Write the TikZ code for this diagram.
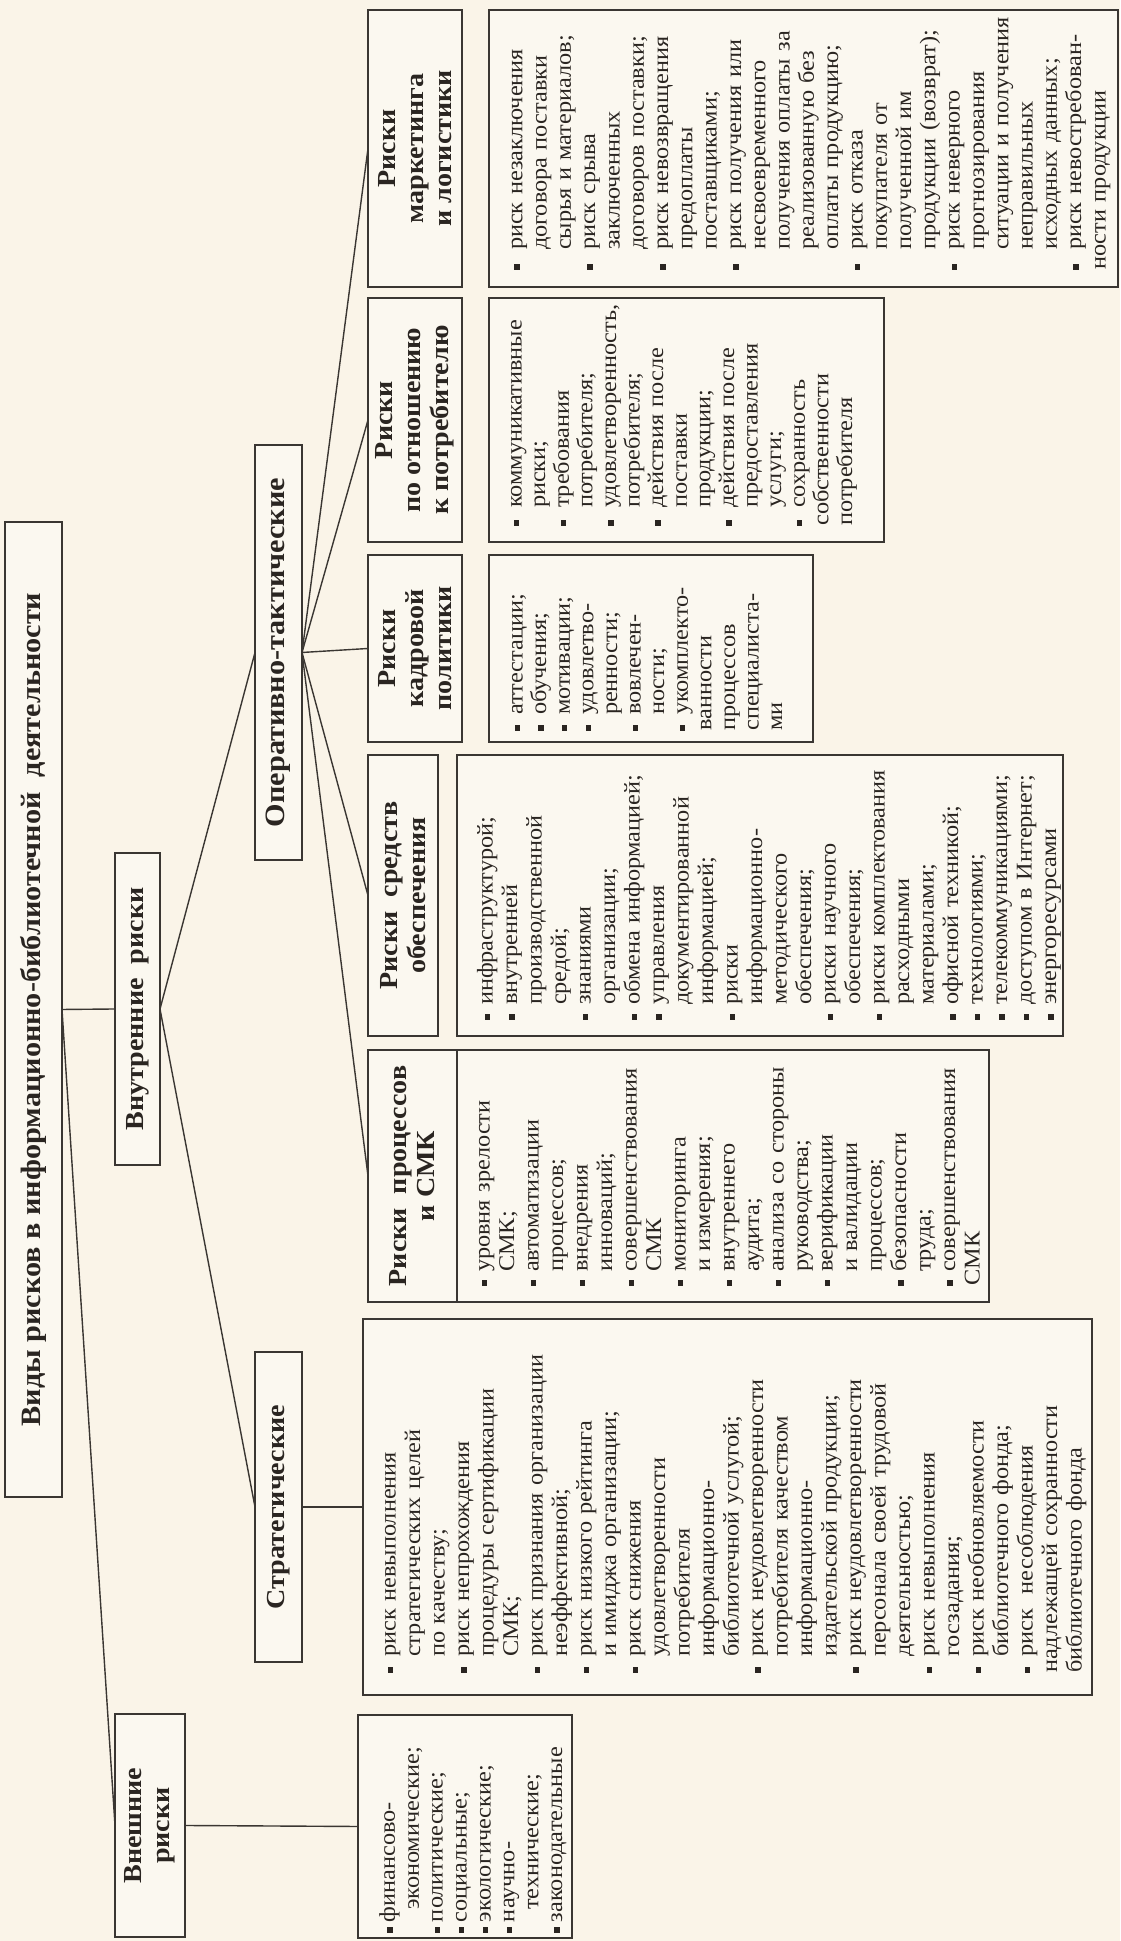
\documentclass[tikz,border=0pt]{standalone}
\usepackage{fontspec}
\setmainfont{Liberation Serif}[FakeStretch=1.08]
\definecolor{bg}{HTML}{FAF4E8}
\definecolor{boxf}{HTML}{FBF8F0}
\definecolor{boxc}{HTML}{3A3632}
\definecolor{txt}{HTML}{2A2521}
\newlength\bind
\newcommand\li{\par\noindent\hangindent=\bind\hangafter=1\makebox[\bind][l]{\strut\raisebox{2.4pt}{\rule{5.5pt}{5.5pt}}}}
\newcommand\nl{\newline}
\newcommand\hfnt{\bfseries\fontsize{26}{28}\selectfont}
\newcommand\lfnt{\fontsize{22.5}{24.5}\selectfont}
\newcommand\lfntb{\fontsize{22.5}{23.6}\selectfont}
\newcommand\lfntc{\fontsize{22.5}{24.3}\selectfont}
\newcommand\lfntd{\fontsize{22.5}{23.9}\selectfont}
\tikzset{
  hdr/.style={draw=boxc, line width=1.8pt, fill=boxf, inner sep=0pt, outer sep=0pt,
    anchor=north west, align=center, font=\hfnt, text=txt},
  lstbox/.style={draw=boxc, line width=1.8pt, fill=boxf, inner sep=0pt, outer sep=0pt,
    anchor=north west},
  ltx/.style={anchor=north west, inner sep=0pt, outer sep=0pt, font=\lfnt, text=txt},
  conn/.style={draw=boxc, line width=1.4pt},
}
\begin{document}
\begin{tikzpicture}[x=1pt,y=1pt]
\fill[bg] (0,0) rectangle (1120,1941);
\useasboundingbox (0,0) rectangle (1120,1941);
\begin{scope}[rotate=90, transform shape]
% title and first level
\node[hdr, minimum width=975pt, minimum height=57pt, font=\bfseries\fontsize{28}{30}\selectfont] (title) at (444,-5)
  {Виды рисков в информационно-библиотечной\ \ деятельности};
\node[hdr, minimum width=223pt, minimum height=70pt] (vnesh) at (4,-115) {Внешние\\риски};
\node[hdr, minimum width=312pt, minimum height=45pt] (vnutr) at (776,-115) {Внутренние\ \ риски};
\node[hdr, minimum width=415pt, minimum height=47pt, font=\bfseries\fontsize{28}{30}\selectfont] (oper) at (1081,-255) {Оперативно-тактические};
\node[hdr, minimum width=310pt, minimum height=47pt] (strat) at (279,-255) {Стратегические};
% category headers
\node[hdr, minimum width=252pt, minimum height=89pt] (smkh) at (639,-368) {Риски\ \ процессов\\и СМК};
\node[hdr, minimum width=281pt, minimum height=70pt] (sredh) at (905,-368) {Риски\ \ средств\\обеспечения};
\node[hdr, minimum width=187pt, minimum height=94pt] (kadrh) at (1199,-368) {Риски\\кадровой\\политики};
\node[hdr, minimum width=244pt, minimum height=94pt] (potrh) at (1399,-368) {Риски\\по отношению\\к потребителю};
\node[hdr, minimum width=277pt, minimum height=94pt] (markh) at (1654,-368) {Риски\\маркетинга\\и логистики};
% list boxes
\node[lstbox, minimum width=223pt, minimum height=214pt] (vneshl) at (3,-358) {};
\node[lstbox, minimum width=376pt, minimum height=729pt] (stratl) at (246,-363) {};
\node[lstbox, minimum width=252pt, minimum height=532pt] (smkl) at (639,-457) {};
\node[lstbox, minimum width=281pt, minimum height=606pt] (sredl) at (905,-457) {};
\node[lstbox, minimum width=187pt, minimum height=324pt] (kadrl) at (1199,-489) {};
\node[lstbox, minimum width=244pt, minimum height=395pt] (potrl) at (1399,-489) {};
\node[lstbox, minimum width=277pt, minimum height=629pt] (markl) at (1654,-489) {};
% list texts
\node[ltx, font=\lfntd, text width=210pt] (vneshtx) at (8.2,-371) {\setlength\bind{10.8pt}%
\li финансово-\nl\hspace*{12pt}экономические;
\li политические;
\li социальные;
\li экологические;
\li научно-\nl\hspace*{12pt}технические;
\li законодательные};
\node[ltx, text width=350pt] (strattx) at (268.2,-371) {\setlength\bind{16pt}%
\li риск невыполнения\nl стратегических целей\nl по качеству;
\li риск непрохождения\nl процедуры сертификации\nl СМК;
\li риск признания организации\nl неэффективной;
\li риск низкого рейтинга\nl и имиджа организации;
\li риск снижения\nl удовлетворенности\nl потребителя\nl информационно-\nl библиотечной услугой;
\li риск неудовлетворенности\nl потребителя качеством\nl информационно-\nl издательской продукции;
\li риск неудовлетворенности\nl персонала своей трудовой\nl деятельностью;
\li риск невыполнения\nl госзадания;
\li риск необновляемости\nl библиотечного фонда;
\li риск\ \ несоблюдения\nl надлежащей сохранности\nl библиотечного фонда};
\node[ltx, text width=234pt] (smktx) at (655.2,-465) {\setlength\bind{13.8pt}%
\li уровня зрелости\nl СМК;
\li автоматизации\nl процессов;
\li внедрения\nl инноваций;
\li совершенствования\nl СМК
\li мониторинга\nl и измерения;
\li внутреннего\nl аудита;
\li анализа со стороны\nl руководства;
\li верификации\nl и валидации\nl процессов;
\li безопасности\nl труда;
\li совершенствования\nl СМК};
\node[ltx, text width=262pt] (sredtx) at (921.2,-468) {\setlength\bind{14.8pt}%
\li инфраструктурой;
\li внутренней\nl производственной\nl средой;
\li знаниями\nl организации;
\li обмена информацией;
\li управления\nl документированной\nl информацией;
\li риски\nl информационно-\nl методического\nl обеспечения;
\li риски научного\nl обеспечения;
\li риски комплектования\nl расходными\nl материалами;
\li офисной техникой;
\li технологиями;
\li телекоммуникациями;
\li доступом в Интернет;
\li энергоресурсами};
\node[ltx, font=\lfntb, text width=172pt] (kadrtx) at (1210.2,-499) {\setlength\bind{15.8pt}%
\li аттестации;
\li обучения;
\li мотивации;
\li удовлетво-\nl ренности;
\li вовлечен-\nl ности;
\li укомплекто-\nl ванности\nl процессов\nl специалиста-\nl ми};
\node[ltx, font=\lfntb, text width=226pt] (potrtx) at (1415.2,-498) {\setlength\bind{17.8pt}%
\li коммуникативные\nl риски;
\li требования\nl потребителя;
\li удовлетворенность,\nl потребителя;
\li действия после\nl поставки\nl продукции;
\li действия после\nl предоставления\nl услуги;
\li сохранность\nl собственности\nl потребителя};
\node[ltx, font=\lfntc, text width=258pt] (marktx) at (1671.2,-498) {\setlength\bind{19.8pt}%
\li риск незаключения\nl договора поставки\nl сырья и материалов;
\li риск срыва\nl заключенных\nl договоров поставки;
\li риск невозвращения\nl предоплаты\nl поставщиками;
\li риск получения или\nl несвоевременного\nl получения оплаты за\nl реализованную без\nl оплаты продукцию;
\li риск отказа\nl покупателя от\nl полученной им\nl продукции (возврат);
\li риск неверного\nl прогнозирования\nl ситуации и получения\nl неправильных\nl исходных данных;
\li риск невостребован-\nl ности продукции};
% connectors
\draw[conn] (title.south) -- (vnutr.north);
\draw[conn] (title.south) -- (vnesh.north);
\draw[conn] (vnutr.south) -- (oper.north);
\draw[conn] (vnutr.south) -- (strat.north);
\draw[conn] (strat.south) -- (stratl.north);
\draw[conn] (vnesh.south) -- (vneshl.north);
\foreach \t in {smkh,sredh,kadrh,potrh,markh}
  \draw[conn] (oper.south) -- (\t.north);
\end{scope}
\end{tikzpicture}
\end{document}
